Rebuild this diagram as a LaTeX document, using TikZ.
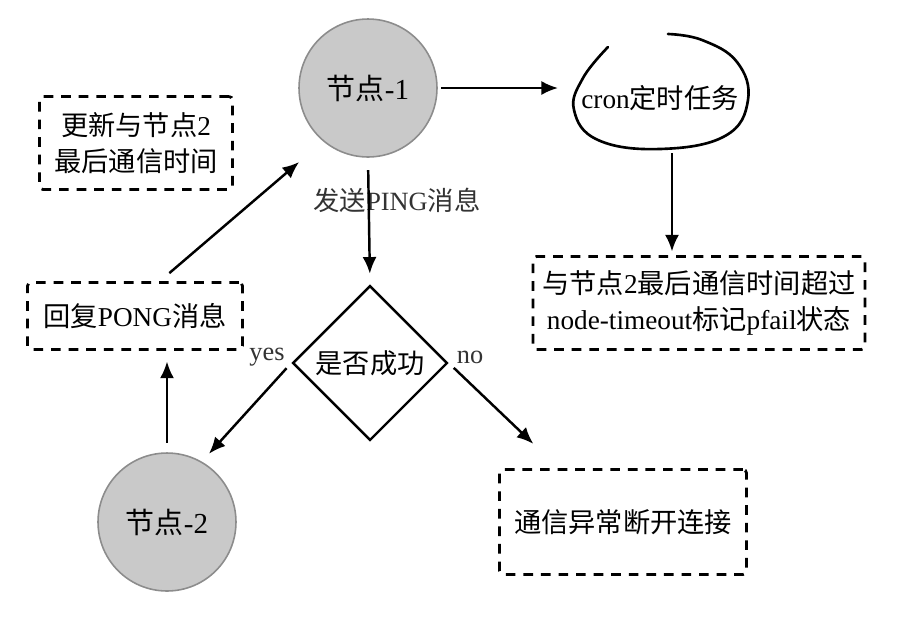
\documentclass[tikz,border=0pt]{standalone}
\usepackage{fontspec}
\setmainfont{Liberation Serif}
\newfontfamily\cjk{Noto Sans CJK SC}
\usetikzlibrary{shapes.geometric,arrows.meta}
\newcommand{\zh}[1]{{\cjk #1}}
\definecolor{peergray}{RGB}{201,201,201}
\definecolor{rimgray}{RGB}{140,140,140}
\tikzset{
  peer/.style={circle, fill=peergray, draw=rimgray, line width=0.9pt,
    minimum size=2.76cm, inner sep=0pt, font=\fontsize{16.5}{18}\selectfont},
  notebox/.style={draw, line width=1.6pt, dash pattern=on 5.5pt off 4.5pt,
    rounded corners=2pt, align=center, inner sep=0pt,
    font=\fontsize{15.5}{20.5}\selectfont},
  flow/.style={line width=1.4pt, -{Latex[length=9.5pt,width=8pt]}},
  tag/.style={font=\fontsize{15}{18}\selectfont, text=black!80}
}
\begin{document}
\begin{tikzpicture}[x=0.02cm, y=-0.02cm]
    \useasboundingbox (0,0) rectangle (899,616);
    % nodes
    \node[peer] (n1) at (368, 88) {\zh{节点}-1};
    \node[peer] (n2) at (167,522) {\zh{节点}-2};
    \node[notebox, minimum width=3.86cm, minimum height=1.86cm] (update) at (136,143)
        {\zh{更新与节点}2\\\zh{最后通信时间}};
    \node[notebox, minimum width=4.3cm, minimum height=1.34cm] (pong) at (135,316)
        {\zh{回复}PONG\zh{消息}};
    \node[minimum width=3.5cm, minimum height=2.2cm, inner sep=0pt,
        font=\fontsize{15.5}{18}\selectfont] (cron) at (660,98) {cron\zh{定时任务}};
    \node[notebox, minimum width=6.64cm, minimum height=1.86cm] (pfail) at (699,303)
        {\zh{与节点}2\zh{最后通信时间超过}\\node-timeout\zh{标记}pfail\zh{状态}};
    \node[diamond, draw, line width=1.4pt, aspect=1, minimum width=3.1cm,
        minimum height=3.1cm, inner sep=0pt, font=\fontsize{15.5}{18}\selectfont]
        (dia) at (370,363) {\zh{是否成功}};
    \node[notebox, minimum width=4.94cm, minimum height=2.1cm] (broken) at (623,522)
        {\zh{通信异常断开连接}};
    % hand drawn ring round the cron task
    \draw[line width=1.5pt, line cap=round] plot[smooth, tension=0.7] coordinates
        {(608,47) (583,78) (574,110) (598,140) (660,149) (725,136) (748,100)
         (737,62) (702,40) (668,34)};
    % labels
    \node[tag] (ping) at (397,200) {\zh{发送}PING\zh{消息}};
    \node[tag] (yes) at (267,357) {yes};
    \node[tag] (no) at (470,357) {no};
    % connectors
    \draw[flow, shorten <=2pt, shorten >=8pt] (n1.east) -- (n1.east -| cron.west);
    \draw[flow, shorten <=0pt, shorten >=2pt] ([xshift=0.24cm]cron.south)
        -- ([xshift=0.24cm]cron.south |- pfail.north);
    \draw[flow, shorten <=7pt, shorten >=6pt] (n1.south) -- (dia.north);
    \draw[flow, shorten <=4pt, shorten >=6pt] (dia.west) -- (n2.60);
    \draw[flow, shorten <=4pt, shorten >=20pt] (dia.east) -- (broken.140);
    \draw[flow, shorten <=5.5pt, shorten >=6pt] (n2.north) -- (pong.south -| n2.north);
    \draw[flow, shorten <=7pt, shorten >=18pt] ([xshift=0.5cm]pong.north) -- (n1.230);
\end{tikzpicture}
\end{document}
